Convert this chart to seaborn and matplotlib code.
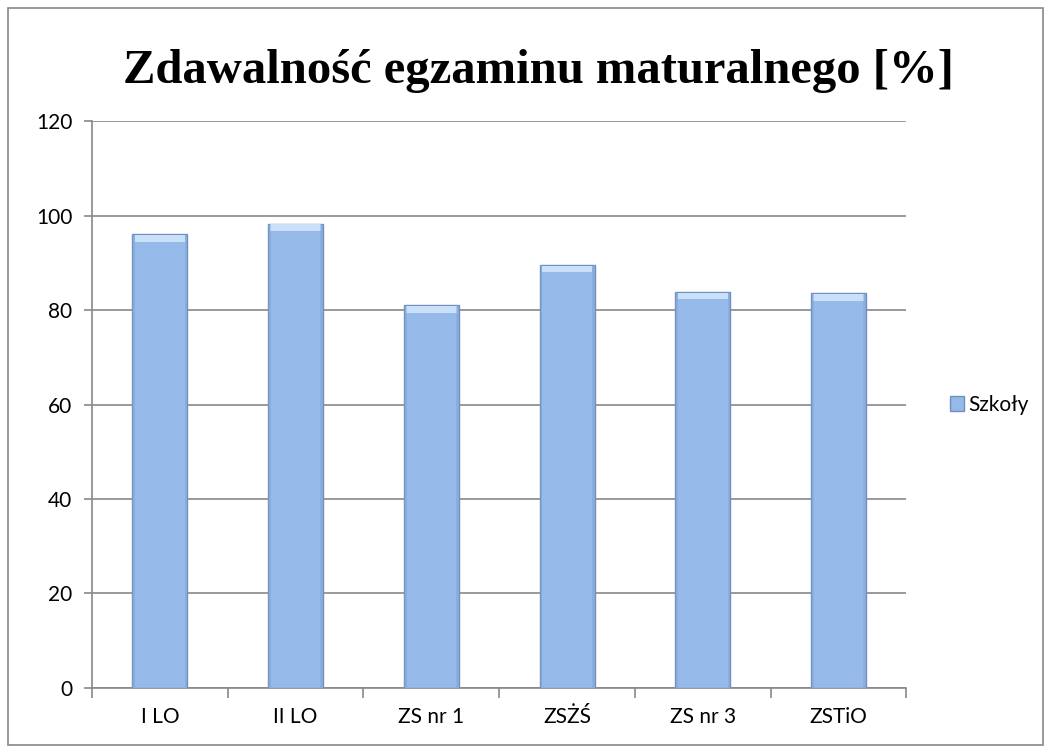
import matplotlib
matplotlib.use("Agg")
import matplotlib.pyplot as plt
import seaborn as sns
import pandas as pd
import numpy as np
from matplotlib.patches import Rectangle, Patch

# dane
szkoly = ["I LO", "II LO", "ZS nr 1", "ZSŻŚ", "ZS nr 3", "ZSTiO"]
zdawalnosc = [96.0, 98.3, 81.0, 89.6, 83.9, 83.5]
y_ticks = [0, 20, 40, 60, 80, 100, 120]

df = pd.DataFrame({"szkola": szkoly, "wynik": zdawalnosc})

sns.set_theme(style="white")
plt.rcParams["font.family"] = ["Lato", "DejaVu Sans"]

fig = plt.figure(figsize=(10.51, 7.47), dpi=100)
ax = fig.add_axes([0.0875, 0.079, 0.775, 0.759])

bar_color = "#95B9E8"
sns.barplot(data=df, x="szkola", y="wynik", color=bar_color, width=0.405,
            saturation=1, edgecolor="#6F8FBE", linewidth=1.0, ax=ax, zorder=3)

# efekt "bevel" - jasny pasek u gory slupka i ciemniejsze boki
for p in ax.patches:
    x0, w, h = p.get_x(), p.get_width(), p.get_height()
    ax.add_patch(Rectangle((x0 + w * 0.04, h - 1.6), w * 0.92, 1.4,
                           facecolor="#C9E0F8", edgecolor="none", zorder=4))
    ax.add_patch(Rectangle((x0, 0), w * 0.05, h, facecolor="#7E9FCC",
                           edgecolor="none", alpha=0.4, zorder=4))
    ax.add_patch(Rectangle((x0 + w * 0.95, 0), w * 0.05, h, facecolor="#7E9FCC",
                           edgecolor="none", alpha=0.4, zorder=4))

ax.set_ylim(0, 120)
ax.set_xlim(-0.5, len(szkoly) - 0.5)
ax.set_yticks(y_ticks)
ax.yaxis.grid(True, color="#888888", linewidth=1.2, zorder=0)
ax.set_axisbelow(True)
ax.set_xlabel("")
ax.set_ylabel("")

for s in ["top", "right"]:
    ax.spines[s].set_visible(False)
for s in ["left", "bottom"]:
    ax.spines[s].set_color("#888888")
    ax.spines[s].set_linewidth(1.2)

ax.tick_params(axis="y", labelsize=15, colors="black", length=6, width=1.2,
               color="#888888", pad=8, left=True)
ax.tick_params(axis="x", labelsize=15, colors="black", length=0, pad=14)
ax.set_xticks(np.arange(-0.5, len(szkoly)), minor=True)
ax.tick_params(axis="x", which="minor", length=7, width=1.2, color="#888888", bottom=True)

fig.text(0.512, 0.905, "Zdawalność egzaminu maturalnego [%]", family=["Liberation Serif"],
         fontsize=35, fontweight="bold", ha="center", va="center", color="black")

leg = ax.legend(handles=[Patch(facecolor=bar_color, edgecolor="#6F8FBE", label="Szkoły")],
                loc="center left", bbox_to_anchor=(1.03, 0.5), frameon=False,
                fontsize=15, handlelength=0.7, handleheight=0.7, handletextpad=0.2)
for t in leg.get_texts():
    t.set_color("black")

fig.patches.append(Rectangle((0.008, 0.003), 0.984, 0.986, transform=fig.transFigure,
                             fill=False, edgecolor="#888888", linewidth=1.2))

fig.savefig("out.png", dpi=100)
